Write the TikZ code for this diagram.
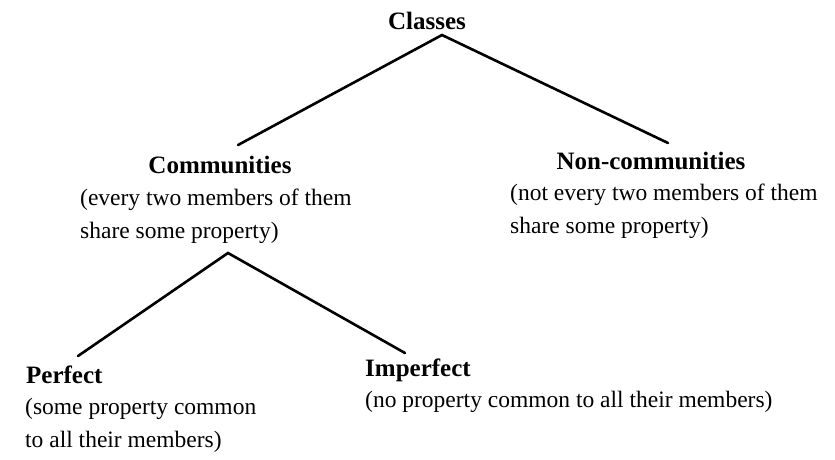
\documentclass[tikz,border=0pt]{standalone}
\usepackage{fontspec}
\setmainfont{Liberation Serif}
\begin{document}
\begin{tikzpicture}[x=1pt,y=-1pt,
  title/.style={font=\fontsize{25}{30}\selectfont\bfseries, inner sep=0pt, anchor=base},
  desc/.style={font=\fontsize{23.5}{30}\selectfont, inner sep=0pt, anchor=base west},
  branch/.style={line width=2.6pt, line cap=round}]
\useasboundingbox (0,0) rectangle (835,459);
% titles
\node[title] (classes) at (427,29) {Classes};
\node[title] (comm) at (220,173) {Communities};
\node[title] (noncomm) at (651,169) {Non-communities};
\node[title, anchor=base west] (perf) at (26,383) {Perfect};
\node[title, anchor=base west] (imperf) at (365,376) {Imperfect};
% descriptions
\node[desc] (commd1) at (80,205) {(every two members of them};
\node[desc] (commd2) at (80,238) {share some property)};
\node[desc] (noncommd1) at (510,200) {(not every two members of them};
\node[desc] (noncommd2) at (510,233) {share some property)};
\node[desc] (perfd1) at (25,414) {(some property common};
\node[desc] (perfd2) at (25,447) {to all their members)};
\node[desc] (imperfd1) at (365,407) {(no property common to all their members)};
% connector end points
\coordinate (top) at (442,35);
\coordinate (commtop) at (238,145);
\coordinate (noncommtop) at (668,143);
\coordinate (sub) at (228,253);
\coordinate (perftop) at (78,356);
\coordinate (imperftop) at (405,353);
\draw[branch] (commtop) -- (top) -- (noncommtop);
\draw[branch] (perftop) -- (sub) -- (imperftop);
\end{tikzpicture}
\end{document}
